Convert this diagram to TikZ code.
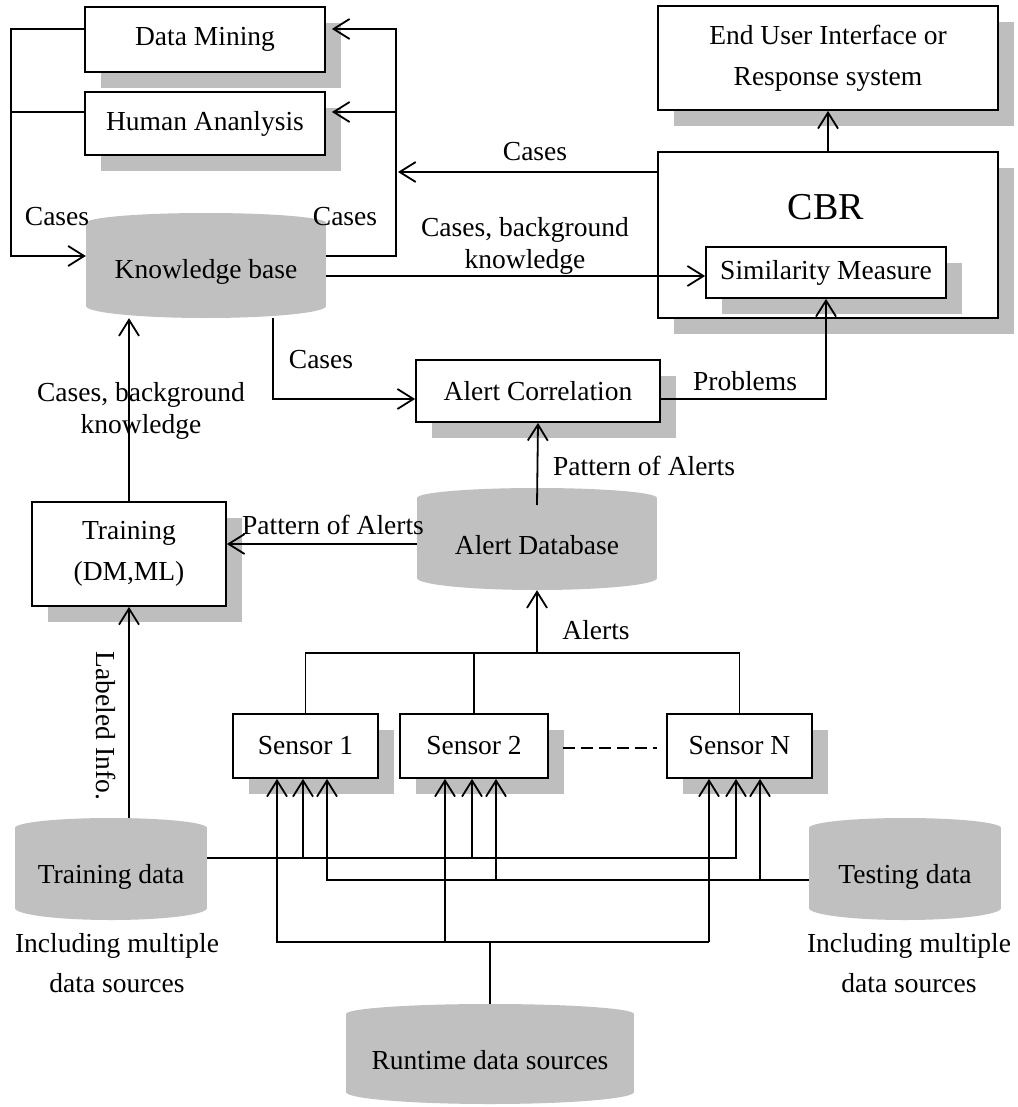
\documentclass[tikz,border=0pt]{standalone}
\usepackage{fontspec}
\setmainfont{Liberation Serif}
\usetikzlibrary{arrows.meta,shadows,calc}

\definecolor{dbgray}{RGB}{192,192,192}
\definecolor{shadowgray}{RGB}{190,190,190}

\tikzset{
  wire/.style={line width=1.8pt, draw=black},
  arr/.style={wire, -{Straight Barb[length=16pt,width=20pt]}},
  gapline/.style={wire, dash pattern=on 12pt off 6pt},
  boxnode/.style={draw, line width=1.8pt, fill=white, inner sep=0pt, align=center,
    drop shadow={shadow xshift=16pt, shadow yshift=-16pt, fill=shadowgray, opacity=1}},
  sensorbox/.style={boxnode, minimum height=64pt},
  % database drum: grey silhouette, no outline
  dbnode/.style={inner sep=0pt, fill=white, path picture={
    \fill[dbgray] ([yshift=12pt]path picture bounding box.south west)
      rectangle ([yshift=-10pt]path picture bounding box.north east);
    \fill[dbgray] let \p1=(path picture bounding box.south west),
                      \p2=(path picture bounding box.north east) in
      ({(\x1+\x2)/2},{\y2-10pt}) ellipse [x radius={(\x2-\x1)/2}, y radius=10pt];
    \fill[dbgray] let \p1=(path picture bounding box.south west),
                      \p2=(path picture bounding box.north east) in
      ({(\x1+\x2)/2},{\y1+12pt}) ellipse [x radius={(\x2-\x1)/2}, y radius=12pt];
  }},
  lbl/.style={inner sep=0pt, align=center, font=\fontsize{27.5}{32}\selectfont},
  note/.style={inner sep=0pt, align=center, font=\fontsize{27.5}{40}\selectfont},
}

\begin{document}
\begin{tikzpicture}[x=1pt, y=-1pt, font=\fontsize{27.5}{41}\selectfont]
\useasboundingbox (0,0) rectangle (1017,1107);

% ---------- boxes ----------
\node[boxnode, minimum width=240pt, minimum height=65pt] (dm) at (205,39.5) {Data Mining};
\node[boxnode, minimum width=240pt, minimum height=63pt] (ha) at (205,123.5) {Human Ananlysis};
\node[boxnode, minimum width=340pt, minimum height=104pt] (eu) at (828,58) {End User Interface or\\Response system};
\node[boxnode, minimum width=340pt, minimum height=166pt] (cbr) at (828,235) {};
\node[inner sep=0pt, font=\fontsize{38}{44}\selectfont] (cbrtitle) at (826,207) {CBR};
\node[boxnode, minimum width=240pt, minimum height=51pt] (sim) at (826,272.5) {Similarity Measure};
\node[boxnode, minimum width=244pt, minimum height=62pt] (ac) at (538,391) {Alert Correlation};
\node[boxnode, minimum width=194pt, minimum height=104pt] (tr) at (129,554) {Training\\(DM,ML)};
\node[sensorbox, minimum width=145pt] (s1) at (305.5,746) {Sensor 1};
\node[sensorbox, minimum width=148pt] (s2) at (474,746) {Sensor 2};
\node[sensorbox, minimum width=145pt] (sn) at (739.5,746) {Sensor N};

% ---------- databases ----------
\node[dbnode, minimum width=240pt, minimum height=105pt,
      label={[name=kbtext, yshift=-6pt]center:Knowledge base}] (kb) at (206,265.5) {};
\node[dbnode, minimum width=240pt, minimum height=102pt,
      label={[name=adbtext, yshift=-6pt]center:Alert Database}] (adb) at (537,539) {};
\node[dbnode, minimum width=192pt, minimum height=102pt,
      label={[name=tdtext, yshift=-8pt]center:Training data}] (td) at (111,869) {};
\node[dbnode, minimum width=192pt, minimum height=102pt,
      label={[name=tedtext, yshift=-8pt]center:Testing data}] (ted) at (905,869) {};
\node[dbnode, minimum width=288pt, minimum height=100pt,
      label={[name=rttext, yshift=-6pt]center:Runtime data sources}] (rt) at (490,1054) {};

% ---------- captions and connector labels ----------
\node[note] (tdnote) at (117,963) {Including multiple\\data sources};
\node[note] (tednote) at (909,963) {Including multiple\\data sources};
\node[lbl] (lcasesL) at (57,217) {Cases};
\node[lbl] (lcasesR) at (345,217) {Cases};
\node[lbl] (lcasesTop) at (535,152) {Cases};
\node[lbl] (lbgTop) at (525,246) {Cases, background\\knowledge};
\node[lbl] (lcasesAC) at (321,360) {Cases};
\node[lbl] (lbgLeft) at (141,411) {Cases, background\\knowledge};
\node[lbl] (lprob) at (745,381) {Problems};
\node[lbl, anchor=west] (lpatUp) at (553,466) {Pattern of Alerts};
\node[lbl] (lpatLeft) at (333,525) {Pattern of Alerts};
\node[lbl] (lalerts) at (596,630) {Alerts};
\node[lbl, rotate=-90] (llabeled) at (106,726) {Labeled Info.};

% ---------- junction points ----------
\coordinate (lloopTop) at (11,29);
\coordinate (lloopMid) at (11,112);
\coordinate (lloopBot) at (11,256);
\coordinate (rloopTop) at (396,29);
\coordinate (rloopMid) at (396,112);
\coordinate (rloopBot) at (396,256);
\coordinate (casesTip) at (398,172);
\coordinate (kbSim) at (0,276);
\coordinate (kbAcTurn) at (273,399);
\coordinate (alertBus) at (537,653);
\coordinate (tdS1) at (303,858);
\coordinate (tdS2) at (472,858);
\coordinate (tdSN) at (736,858);
\coordinate (teS1) at (327,880);
\coordinate (teS2) at (496,880);
\coordinate (teSN) at (760,880);
\coordinate (rtS1) at (277,942);
\coordinate (rtS2) at (445,942);
\coordinate (rtSN) at (709,942);

% ---------- feedback loops around the knowledge base ----------
\draw[arr] ([yshift=10.5pt]dm.west) -- (lloopTop) -- (lloopBot) -- (kb.west |- lloopBot);
\draw[wire] ([yshift=11.5pt]ha.west) -- (lloopMid);
\draw[arr] (kb.east |- rloopBot) -- (rloopBot) -- (rloopTop) -- ([yshift=10.5pt,xshift=6pt]dm.east);
\draw[arr] (rloopMid) -- ([yshift=11.5pt,xshift=6pt]ha.east);
\draw[arr] (cbr.west |- casesTip) -- (casesTip);

% ---------- main flow ----------
\draw[arr] (kb.east |- kbSim) -- (sim.west |- kbSim);
\draw[arr] (cbr.north) -- (eu.south);
\draw[arr] (kb.south -| kbAcTurn) -- (kbAcTurn) -- (ac.west |- kbAcTurn);
\draw[arr] (ac.east |- kbAcTurn) -| (sim.south);
\draw[arr] (adb.north |- 0,505) -- (ac.south);
\draw[arr] (adb.west |- 0,544) -- (tr.east |- 0,544);
\draw[arr] (tr.north) -- (tr.north |- kb.south);
\draw[arr] (td.north -| tr.south) -- (tr.south);

% ---------- sensors to alert database ----------
\draw[wire] (s1.north) -- (s1.north |- alertBus) -- (sn.north |- alertBus) -- (sn.north);
\draw[wire] (s2.north) -- (s2.north |- alertBus);
\draw[arr] (alertBus) -- (adb.south);
\draw[gapline] ([shift={(14,2)}]s2.east) -- ([shift={(-9,2)}]sn.west);

% ---------- data sources to sensors ----------
\draw[arr] (td.east |- tdS1) -- (tdSN) -- (sn.south -| tdSN);
\draw[arr] (tdS1) -- (s1.south -| tdS1);
\draw[arr] (tdS2) -- (s2.south -| tdS2);
\draw[arr] (ted.west |- teSN) -- (teS1) -- (s1.south -| teS1);
\draw[arr] (teS2) -- (s2.south -| teS2);
\draw[arr] (teSN) -- (sn.south -| teSN);
\draw[wire] (rt.north) -- (rt.north |- rtS1);
\draw[arr] (rtSN) -- (rtS1) -- (s1.south -| rtS1);
\draw[arr] (rtS2) -- (s2.south -| rtS2);
\draw[arr] (rtSN) -- (sn.south -| rtSN);
\end{tikzpicture}
\end{document}
